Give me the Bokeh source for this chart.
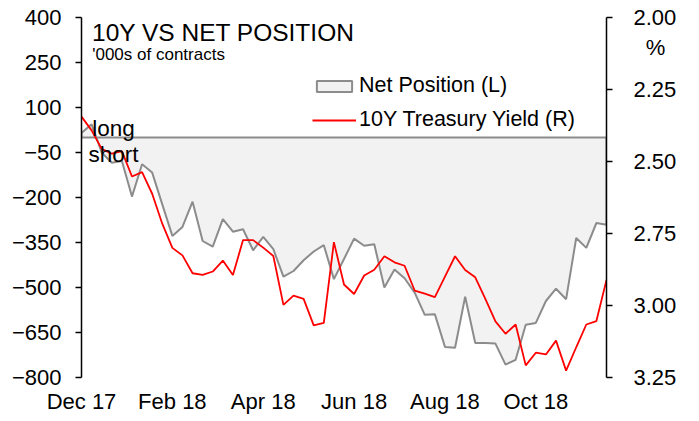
import pandas as pd
from datetime import timedelta
from bokeh.plotting import figure
from bokeh.models import (Range1d, LinearAxis, FixedTicker, DatetimeTickFormatter,
                          PrintfTickFormatter, Label, Legend, LegendItem)
from bokeh.embed import file_html
from bokeh.resources import INLINE

# ---- data (weekly, CFTC Tuesdays) ----
weeks = [d.to_pydatetime() for d in pd.date_range("2017-12-05", periods=53, freq="7D")]
net_position = [15, 44, -50, -84, -78, -197, -89, -117, -223, -328, -298, -214, -345, -364,
                -272, -314, -306, -376, -331, -372, -464, -445, -409, -380, -359, -472, -405,
                -337, -361, -356, -500, -440, -469, -517, -591, -589, -698, -701, -531, -685,
                -685, -687, -757, -741, -624, -618, -545, -504, -539, -335, -368, -285, -291]
treasury_10y = [2.344, 2.392, 2.456, 2.473, 2.464, 2.552, 2.537, 2.612, 2.716, 2.800, 2.826,
                2.888, 2.894, 2.882, 2.844, 2.894, 2.773, 2.773, 2.799, 2.828, 2.998, 2.966,
                2.977, 3.069, 3.060, 2.780, 2.927, 2.960, 2.896, 2.876, 2.829, 2.850, 2.862,
                2.948, 2.959, 2.971, 2.900, 2.829, 2.877, 2.902, 2.977, 3.055, 3.098, 3.066,
                3.208, 3.164, 3.170, 3.122, 3.226, 3.145, 3.066, 3.054, 2.911]
left_ticks = [-800, -650, -500, -350, -200, -50, 100, 250, 400]
right_ticks = [2.00, 2.25, 2.50, 2.75, 3.00, 3.25]
right_unit = "%"
x_tick_every = 9

FONT = "Liberation Sans"
FRAME_W = 525
UNIT_POS = 2.104  # vertical position of the "%" unit text on the right scale


def ms(d):
    return pd.Timestamp(d).timestamp() * 1000.0


span_days = (weeks[-1] - weeks[0]).days


def xpx(px):
    """frame-relative pixel offset -> x data value (ms)"""
    return ms(weeks[0] + timedelta(days=span_days * px / FRAME_W))


p = figure(width=691, height=421, x_axis_type="datetime", output_backend="svg",
           toolbar_location=None,
           x_range=Range1d(weeks[0], weeks[-1]), y_range=Range1d(-800, 400),
           min_border_left=81, min_border_right=85, min_border_top=17, min_border_bottom=44)
p.grid.visible = False
p.outline_line_color = None
p.background_fill_color = "white"

p.extra_y_ranges = {"yield": Range1d(3.25, 2.00)}

# area (net position)
xs = list(weeks) + list(weeks[::-1])
ys = list(net_position) + [0] * len(net_position)
area = p.patch(xs, ys, fill_color="#f2f2f2", line_color="#8c8c8c", line_width=2)

# yield line
yl = p.line(weeks, treasury_10y, y_range_name="yield", line_color="#ff0000", line_width=1.8)

# axes
xa = p.xaxis[0]
xa.ticker = FixedTicker(ticks=[ms(d) for d in weeks[::x_tick_every]])
fmt = "%b %y"
xa.formatter = DatetimeTickFormatter(microseconds=fmt, milliseconds=fmt, seconds=fmt,
                                     minsec=fmt, minutes=fmt, hourmin=fmt, hours=fmt,
                                     days=fmt, months=fmt, years=fmt)
xa.axis_line_color = None
xa.major_tick_line_color = None
xa.minor_tick_line_color = None
xa.major_tick_out = 0
xa.major_label_standoff = 11
xa.major_label_text_font = FONT
xa.major_label_text_font_size = "22px"
xa.major_label_text_color = "black"

ya = p.yaxis[0]
ya.ticker = FixedTicker(ticks=left_ticks)
ya.axis_line_width = 1.5
ya.axis_line_color = "black"
ya.major_tick_out = 6
ya.major_tick_in = 0
ya.major_tick_line_width = 1.5
ya.minor_tick_line_color = None
ya.major_label_standoff = 14
ya.major_label_text_font = FONT
ya.major_label_text_font_size = "22px"
ya.major_label_text_color = "black"

# right axis: numeric labels + the "%" unit label; tick marks drawn as minor ticks
ra = LinearAxis(y_range_name="yield",
                ticker=FixedTicker(ticks=right_ticks + [UNIT_POS], minor_ticks=right_ticks),
                formatter=PrintfTickFormatter(format="%.2f"))
ra.major_label_overrides = {UNIT_POS: "\u00a0\u00a0" + right_unit}
ra.axis_line_width = 1.5
ra.axis_line_color = "black"
ra.major_tick_out = 6
ra.major_tick_in = 0
ra.major_tick_line_color = None
ra.minor_tick_out = 6
ra.minor_tick_in = 0
ra.minor_tick_line_color = "black"
ra.minor_tick_line_width = 1.5
ra.major_label_standoff = 21
ra.major_label_text_font = FONT
ra.major_label_text_font_size = "22px"
ra.major_label_text_color = "black"
p.add_layout(ra, "right")

# legend
legend = Legend(items=[LegendItem(label="Net Position (L)", renderers=[area]),
                       LegendItem(label="10Y Treasury Yield (R)", renderers=[yl])],
                location=(231, 245), glyph_width=44, glyph_height=14, label_standoff=3,
                spacing=9, padding=0, margin=0, border_line_alpha=0,
                background_fill_alpha=0, label_text_font=FONT,
                label_text_font_size="21.5px", label_text_color="black")
p.add_layout(legend)

# texts
p.add_layout(Label(x=xpx(10.5), y=350, text="10Y VS NET POSITION", text_font=FONT,
                   text_font_size="24.5px", text_baseline="alphabetic", text_color="black"))
p.add_layout(Label(x=xpx(10.7), y=278, text="'000s of contracts", text_font=FONT,
                   text_font_size="17px", text_baseline="alphabetic", text_color="black"))
p.add_layout(Label(x=xpx(10.8), y=31, text="long", text_font=FONT,
                   text_font_size="22.5px", text_baseline="alphabetic", text_color="black"))
p.add_layout(Label(x=xpx(7), y=-58, text="short", text_font=FONT,
                   text_font_size="22.5px", text_baseline="alphabetic", text_color="black"))

open("out.html", "w").write(file_html(p, INLINE))
